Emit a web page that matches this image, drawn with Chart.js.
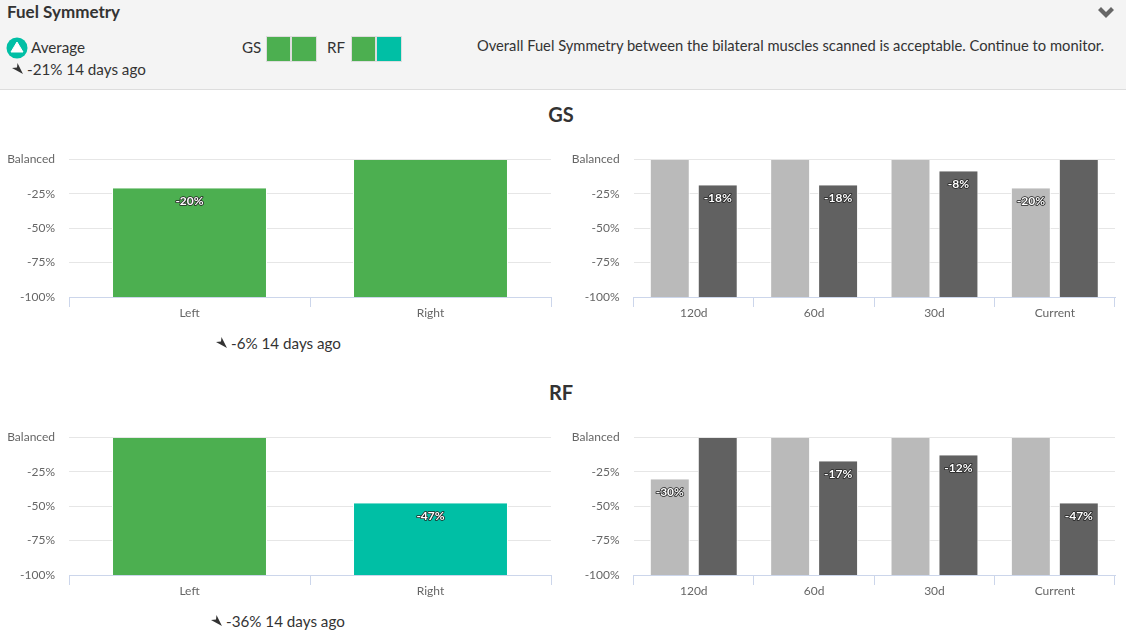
<!DOCTYPE html>
<html><head><meta charset="utf-8">
<script src="https://cdn.jsdelivr.net/npm/chart.js@4"></script>
<style>
html,body{margin:0;padding:0;background:#fff;width:1126px;height:636px;overflow:hidden;font-family:Lato,"Open Sans",sans-serif;color:#333}
.abs,canvas{position:absolute}
#hdr{left:0;top:0;width:1126px;height:89px;background:#f4f4f4;border-bottom:1px solid #ddd}
.t{position:absolute;white-space:nowrap;line-height:20px;font-size:15.2px}
.sq{position:absolute;top:36px;width:25px;height:26px;box-sizing:border-box;border:1px solid #ddd}
.h{position:absolute;left:0;width:1122px;text-align:center;font-weight:700;font-size:20px;line-height:22px;color:#333}
</style></head><body>
<div id="hdr" class="abs"></div>
<div class="t" style="left:7px;top:2px;font-size:17px;font-weight:700;">Fuel Symmetry</div>
<svg class="abs" style="left:1097px;top:5px" width="18" height="15" viewBox="0 0 18 15"><path d="M1 5 L4 2 L9 7 L14 2 L17 5 L9 13 Z" fill="#666"/></svg>
<svg class="abs" style="left:6px;top:37px" width="22" height="22" viewBox="0 0 22 22"><circle cx="11" cy="11" r="10.5" fill="#00bfa5"/><path d="M11 5 L17 15 L5 15 Z" fill="#fff" stroke="#fff" stroke-linejoin="round"/></svg>
<div class="t" style="left:31px;top:37px">Average</div>
<svg class="abs" style="left:12px;top:63px" width="12" height="12" viewBox="0 0 12 12"><path d="M0 5 L5 4.5 L5.5 0 L11 11 Z" fill="#333"/></svg>
<div class="t" style="left:27px;top:59px">-21% 14 days ago</div>
<div class="t" style="left:242px;top:37px">GS</div>
<div class="sq" style="left:266px;background:#4caf50"></div><div class="sq" style="left:291px;background:#4caf50;width:26px"></div>
<div class="t" style="left:327px;top:37px">RF</div>
<div class="sq" style="left:351px;background:#4caf50"></div><div class="sq" style="left:376px;background:#00bfa5;width:26px"></div>
<div class="t" style="right:22px;top:35px;font-size:14.72px">Overall Fuel Symmetry between the bilateral muscles scanned is acceptable. Continue to monitor.</div>
<div class="h" style="top:103px">GS</div>
<div class="h" style="top:381px">RF</div>
<svg class="abs" style="left:216px;top:337px" width="12" height="12" viewBox="0 0 12 12"><path d="M0 5 L5 4.5 L5.5 0 L11 11 Z" fill="#333"/></svg>
<div class="t" style="left:231px;top:333px">-6% 14 days ago</div>
<svg class="abs" style="left:211px;top:615px" width="12" height="12" viewBox="0 0 12 12"><path d="M0 5 L5 4.5 L5.5 0 L11 11 Z" fill="#333"/></svg>
<div class="t" style="left:226px;top:611px">-36% 14 days ago</div>
<canvas id="c1" style="left:0;top:150px" width="560" height="170"></canvas>
<canvas id="c2" style="left:564px;top:150px" width="560" height="170"></canvas>
<canvas id="c3" style="left:0;top:428px" width="560" height="170"></canvas>
<canvas id="c4" style="left:564px;top:428px" width="560" height="170"></canvas>
<script>
const yTicks = [0, -25, -50, -75, -100];
const yTickLabels = ['Balanced', '-25%', '-50%', '-75%', '-100%'];
const sideCats = ['Left', 'Right'];
const timeCats = ['120d', '60d', '30d', 'Current'];
const gsSide = [-20.9, 0];
const gsSideColors = ['#4caf50', '#4caf50'];
const rfSide = [0, -47.8];
const rfSideColors = ['#4caf50', '#00bfa5'];
const gsLeftHist = [0, 0, 0, -20.9];
const gsRightHist = [-18.8, -18.8, -8.7, 0];
const rfLeftHist = [-30.4, 0, 0, 0];
const rfRightHist = [0, -17.4, -12.9, -47.8];
const lightGrey = '#bababa', darkGrey = '#616161';

const barLabels = {
  id: 'barLabels',
  afterDatasetsDraw(chart) {
    const ctx = chart.ctx;
    ctx.save();
    ctx.font = '700 12px Lato, sans-serif';
    ctx.textAlign = 'center';
    ctx.textBaseline = 'middle';
    chart.data.datasets.forEach((ds, i) => {
      chart.getDatasetMeta(i).data.forEach((bar, j) => {
        const v = ds.data[j][1];
        if (v === 0) return;
        const s = Math.trunc(v) + '%';
        const y = chart.scales.y.getPixelForValue(v) + 12.5;
        ctx.lineWidth = 1.6; ctx.lineJoin = 'round'; ctx.strokeStyle = '#222';
        ctx.strokeText(s, bar.x, y);
        ctx.fillStyle = '#fff';
        ctx.fillText(s, bar.x, y);
      });
    });
    ctx.restore();
  }
};
function makeChart(id, labels, sets, grouped) {
  new Chart(document.getElementById(id), {
    type: 'bar',
    data: { labels, datasets: sets.map(s => ({
      data: s.values.map(v => [-100, v]),
      backgroundColor: s.colors,
      borderColor: '#fff', borderWidth: { left: 1, right: 1, top: 0, bottom: 0 }, borderSkipped: false,
      categoryPercentage: grouped ? 0.797 : 0.643,
      barPercentage: grouped ? 0.833 : 1
    })) },
    plugins: [barLabels],
    options: {
      responsive: false, animation: false,
      layout: { padding: { top: 9.4, right: 9 } },
      plugins: { legend: { display: false }, tooltip: { enabled: false } },
      scales: {
        y: {
          min: -100, max: 0,
          afterBuildTicks: a => { a.ticks = yTicks.map(v => ({ value: v })); },
          afterFit: a => { a.width = grouped ? 69.6 : 69; a.paddingTop = 0; a.paddingBottom = 0; },
          grid: { color: '#e6e6e6', drawTicks: false },
          border: { display: false },
          ticks: { color: '#666', font: { size: 12, family: 'Lato' }, padding: 14,
            callback: v => yTickLabels[yTicks.indexOf(v)] }
        },
        x: {
          afterFit: a => { a.height = 23; a.paddingLeft = 0; a.paddingRight = 0; },
          grid: { drawOnChartArea: false, color: '#ccd6eb', tickLength: 10, tickColor: '#ccd6eb' },
          border: { display: true, color: '#ccd6eb' },
          ticks: { color: '#666', font: { size: 12, family: 'Lato' }, padding: -1.5, maxRotation: 0 }
        }
      }
    }
  });
}
makeChart('c1', sideCats, [{ values: gsSide, colors: gsSideColors }], false);
makeChart('c2', timeCats, [{ values: gsLeftHist, colors: lightGrey }, { values: gsRightHist, colors: darkGrey }], true);
makeChart('c3', sideCats, [{ values: rfSide, colors: rfSideColors }], false);
makeChart('c4', timeCats, [{ values: rfLeftHist, colors: lightGrey }, { values: rfRightHist, colors: darkGrey }], true);
</script>
</body></html>
